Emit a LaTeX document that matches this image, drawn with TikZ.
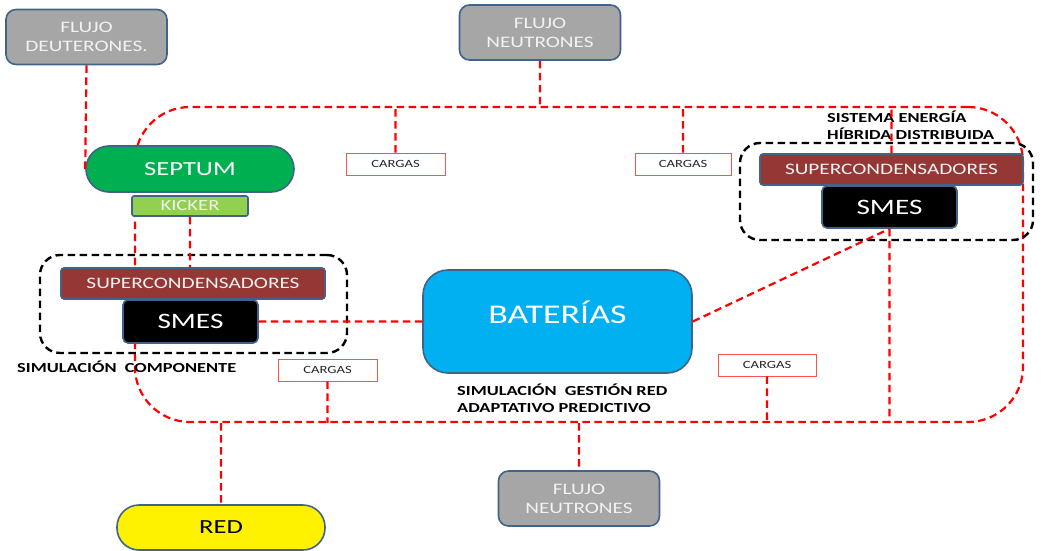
\documentclass[tikz,border=0pt]{standalone}
\usepackage{fontspec}
\setmainfont{Carlito}[FakeStretch=1.33]
\definecolor{bordblue}{HTML}{41628A}
\definecolor{gbox}{HTML}{A6A6A6}
\definecolor{sep}{HTML}{00B050}
\definecolor{kick}{HTML}{92D050}
\definecolor{scap}{HTML}{953735}
\definecolor{bat}{HTML}{00B0F0}
\definecolor{ltext}{HTML}{F2F2F2}
\definecolor{cbord}{HTML}{FF5050}
\begin{document}
\begin{tikzpicture}[x=1pt,y=-1pt,
  reddash/.style={draw=red, line width=2.2pt, dash pattern=on 7.5pt off 4.5pt},
  blkdash/.style={draw=black, line width=2.4pt, dash pattern=on 7.5pt off 4.5pt, rounded corners=20pt, inner sep=0pt},
  box/.style={draw=bordblue, line width=1.6pt, inner sep=0pt, align=center},
  flujo/.style={box, fill=gbox, rounded corners=10pt, minimum width=161pt, minimum height=55pt, text=ltext, font=\fontsize{16}{19}\selectfont},
  scbox/.style={box, fill=scap, rounded corners=3pt, minimum width=264pt, minimum height=31pt, text=ltext, font=\fontsize{16}{18}\selectfont},
  smesbox/.style={box, fill=black, rounded corners=5pt, minimum width=135pt, minimum height=43pt, text=white, font=\fontsize{22}{24}\selectfont},
  carga/.style={draw=cbord, line width=0.8pt, fill=white, minimum width=99pt, minimum height=22pt, inner sep=0pt, font=\fontsize{11}{12}\selectfont, text=black!85},
  lbl/.style={font=\bfseries\fontsize{13.8}{16.5}\selectfont, align=left, inner sep=0pt}
]
\useasboundingbox (0,0) rectangle (1044,551);
% main loop
\node[reddash, rounded corners=55pt, minimum width=888pt, minimum height=315pt, inner sep=0pt] (loop) at (579,264.5) {};
% nodes
\node[flujo] (fd) at (86.5,37) {FLUJO\\DEUTERONES.};
\node[flujo] (fnt) at (540,32.5) {FLUJO\\NEUTRONES};
\node[flujo] (fnb) at (579,498.5) {FLUJO\\NEUTRONES};
\node[box, fill=sep, rounded corners=23pt, minimum width=208pt, minimum height=46pt, text=white, font=\fontsize{20}{22}\selectfont] (septum) at (190,169) {SEPTUM};
\node[box, fill=kick, rounded corners=2pt, minimum width=116pt, minimum height=20pt, text=ltext, font=\fontsize{15.5}{16}\selectfont] (kicker) at (190,206) {KICKER};
\node[blkdash, minimum width=307pt, minimum height=98pt] (lbox) at (193.5,304) {};
\node[scbox] (lsc) at (193,283.5) {SUPERCONDENSADORES};
\node[smesbox] (lsmes) at (190.5,321.5) {SMES};
\node[box, fill=bat, rounded corners=25pt, minimum width=269pt, minimum height=103pt, text=white, font=\fontsize{27}{30}\selectfont, text depth=18pt] (bat) at (557.5,321.5) {BATERÍAS};
\node[blkdash, minimum width=293pt, minimum height=97pt] (rbox) at (886.5,191.5) {};
\node[scbox, minimum width=263pt] (rsc) at (891.5,169.5) {SUPERCONDENSADORES};
\node[smesbox, minimum height=42pt] (rsmes) at (889.5,207) {SMES};
\node[box, fill=yellow, rounded corners=22pt, minimum width=208pt, minimum height=45pt, text=black, font=\fontsize{20}{22}\selectfont] (red) at (221,527.5) {RED};
\node[carga] (c1) at (395.5,164) {CARGAS};
\node[carga, minimum width=96pt] (c2) at (683,164) {CARGAS};
\node[carga] (c3) at (327.5,370) {CARGAS};
\node[carga, minimum width=98pt] (c4) at (767,365) {CARGAS};
\node[lbl, anchor=west] (simcomp) at (17,367) {SIMULACIÓN\ \ COMPONENTE};
\node[lbl, anchor=west] (simgest) at (457,398.3) {SIMULACIÓN\ \ GESTIÓN RED\\ADAPTATIVO PREDICTIVO};
\node[lbl, anchor=west] (sist) at (827,125.5) {SISTEMA ENERGÍA\\HÍBRIDA DISTRIBUIDA};
% connectors
\draw[reddash]
  (fd.south) -- (septum.west)
  (fnt.south) -- (fnt.south |- loop.north)
  (c1.north) -- (c1.north |- loop.north)
  (c2.north) -- (c2.north |- loop.north)
  (c3.south) -- (c3.south |- loop.south)
  (c4.south) -- (c4.south |- loop.south)
  (kicker.south) -- (kicker.south |- lsc.north)
  (lsmes.east) -- (bat.west)
  (bat.east) -- (rsmes.south)
  (rsmes.south) -- (rsmes.south |- loop.south)
  (rsc.north) -- (rsc.north |- loop.north)
  (red.north |- loop.south) -- (red.north)
  (fnb.north |- loop.south) -- (fnb.north);
\end{tikzpicture}
\end{document}
